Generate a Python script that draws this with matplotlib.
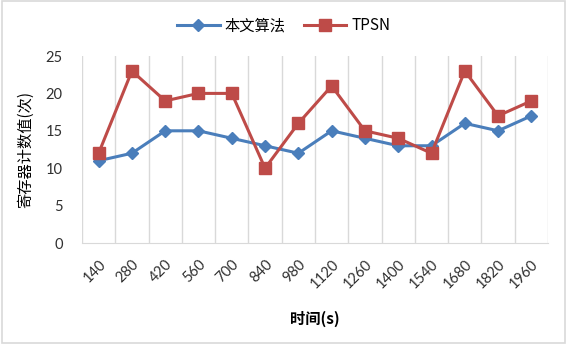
import numpy as np
import matplotlib
matplotlib.use("Agg")
import matplotlib.pyplot as plt
from matplotlib.patches import Rectangle

plt.rcParams["font.family"] = ["Lato", "Noto Sans CJK SC", "DejaVu Sans"]

times = ["140", "280", "420", "560", "700", "840", "980", "1120", "1260",
         "1400", "1540", "1680", "1820", "1960"]
ours = [11, 12, 15, 15, 14, 13, 12, 15, 14, 13, 13, 16, 15, 17]
tpsn = [12, 23, 19, 20, 20, 10, 16, 21, 15, 14, 12, 23, 17, 19]

fig = plt.figure(figsize=(5.67, 3.44), dpi=100)
ax = fig.add_axes([0.1446, 0.2936, 0.8219, 0.5436])

x = np.arange(len(times))
ax.plot(x, ours, color="#4a7ebb", lw=2.2, marker="D", ms=6,
        label="本文算法", zorder=3)
ax.plot(x, tpsn, color="#be4b48", lw=2.2, marker="s", ms=8,
        label="TPSN", zorder=3)

ax.set_xlim(-0.5, len(times) - 0.5)
ax.set_ylim(0, 25)
ax.set_yticks(range(0, 26, 5))
ax.set_xticks(x)
ax.set_xticklabels(times, rotation=45, ha="right", rotation_mode="anchor")
ax.set_xticks(np.arange(-0.5, len(times), 1), minor=True)
ax.grid(which="minor", axis="x", color="#d9d9d9", lw=1)
ax.tick_params(which="both", length=0, labelsize=10.5, colors="#303030")
ax.tick_params(axis="x", pad=10)
ax.tick_params(axis="y", pad=14)
for s in ["top", "right", "left"]:
    ax.spines[s].set_visible(False)
ax.spines["bottom"].set_color("#d9d9d9")

ax.set_ylabel("寄存器计数值(次)", fontsize=11, labelpad=8,
              family=["Noto Sans CJK SC", "DejaVu Sans"])
ax.set_xlabel("时间(s)", fontsize=11, fontweight="bold", labelpad=14,
              family=["Noto Sans CJK SC", "DejaVu Sans"])

fig.legend(loc="center", bbox_to_anchor=(0.5, 0.925), ncol=2, frameon=False,
           handlelength=2.8, columnspacing=1.2, handletextpad=0.3,
           prop={"family": ["Noto Sans CJK SC", "DejaVu Sans"], "size": 11})

fig.patches.append(Rectangle((0.003, 0.003), 0.994, 0.994, transform=fig.transFigure,
                             fill=False, edgecolor="#d9d9d9", lw=1.2))

fig.savefig("out.png", dpi=100)
